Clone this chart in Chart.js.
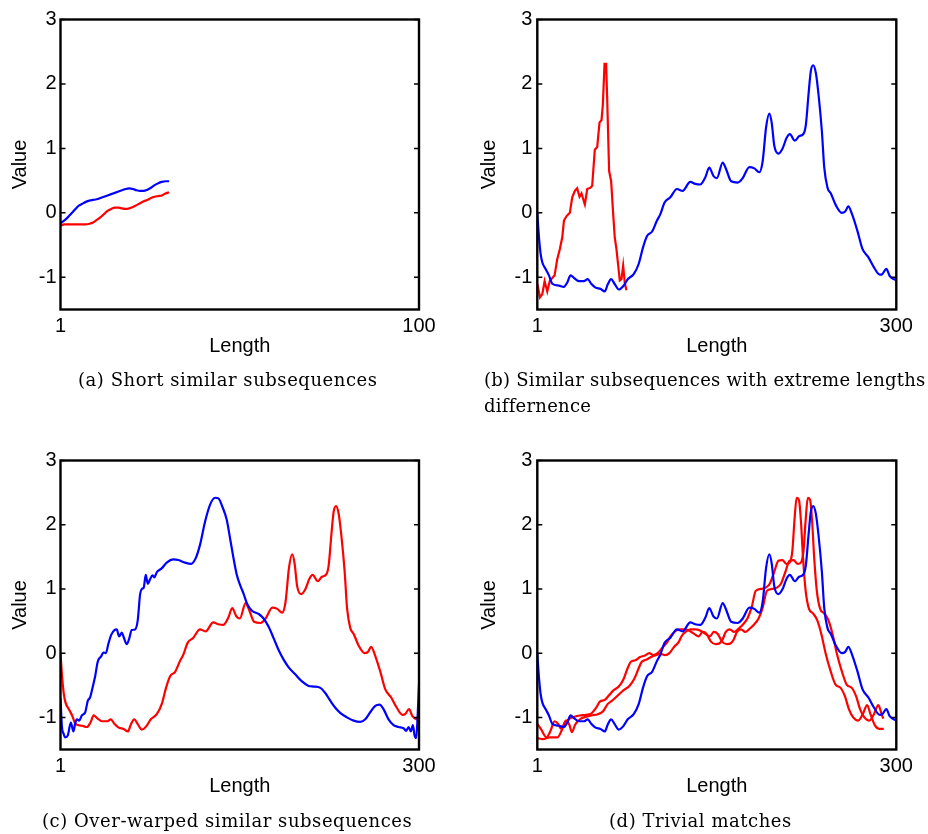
<!DOCTYPE html>
<html>
<head>
<meta charset="utf-8">
<script src="https://cdn.jsdelivr.net/npm/chart.js@4.4.1/dist/chart.umd.min.js"></script>
<style>
  html, body { margin: 0; padding: 0; background: #fff; }
  #page { position: relative; width: 928px; height: 834px; overflow: hidden; background: #fff; }
  .panel { position: absolute; width: 464px; height: 417px; }
  .panel canvas { display: block; }
  .cap { position: absolute; font-family: 'DejaVu Serif', 'Liberation Serif', serif; font-size: 18px;
         letter-spacing: 0.55px; line-height: 26px; color: #000; white-space: nowrap; }
  .cap.long { letter-spacing: 0.25px; }
</style>
</head>
<body>
<div id="page">
  <div class="panel" style="left:0;top:0"><canvas id="panelA" width="464" height="417"></canvas></div>
  <div class="panel" style="left:464px;top:0"><canvas id="panelB" width="464" height="417"></canvas></div>
  <div class="panel" style="left:0;top:441px"><canvas id="panelC" width="464" height="417"></canvas></div>
  <div class="panel" style="left:464px;top:441px"><canvas id="panelD" width="464" height="417"></canvas></div>

  <div class="cap" style="left:78px;top:367px">(a) Short similar subsequences</div>
  <div class="cap long" style="left:484px;top:367px">(b) Similar subsequences with extreme lengths<br>differnence</div>
  <div class="cap" style="left:42px;top:808px">(c) Over-warped similar subsequences</div>
  <div class="cap" style="left:609px;top:808px">(d) Trivial matches</div>
</div>

<script>
// Shared value axis
const yTicks = [-1, 0, 1, 2, 3];
const yMin = -1.5;
const yMax = 3;

// (a) two short subsequences, 31 samples each
const shortLen  = [1,2,3,4,5,6,7,8,9,10,11,12,13,14,15,16,17,18,19,20,21,22,23,24,25,26,27,28,29,30,31];
const shortBlue = [-0.16,-0.12,-0.07,-0.01,0.05,0.11,0.14,0.17,0.19,0.20,0.21,0.23,0.25,0.27,0.29,0.31,
                   0.33,0.35,0.37,0.38,0.37,0.35,0.34,0.34,0.36,0.39,0.43,0.46,0.48,0.49,0.49];
const shortRed  = [-0.20,-0.18,-0.18,-0.18,-0.18,-0.18,-0.18,-0.18,-0.17,-0.15,-0.11,-0.07,-0.02,0.03,0.06,0.08,
                   0.08,0.07,0.06,0.07,0.09,0.12,0.15,0.18,0.20,0.23,0.25,0.26,0.27,0.30,0.32];

// Full-length pattern (blue in b and d, red in c)
const queryLen = [1,2.4,3.8,5.2,7.9,10.7,13.5,19,23,26,28.7,31.5,35.6,39.8,43,45.9,49.5,53.6,57.2,59.7,
                  62.5,65.3,68.9,72.5,76.3,81.3,85.5,89,92.4,96.6,100.7,103.5,107,111.8,117.3,122,128.4,
                  132.6,136.7,140.9,144.2,147.8,150.6,155.4,158.2,162.4,167.9,172.1,177.6,181.8,185.9,
                  188.7,191.5,194.2,196.2,198.4,201.7,205.3,208.6,211.4,215.5,219.1,222.8,224.7,226.9,
                  228.8,230.8,233,235.2,238,240,242.7,245.5,249.6,254.6,257.4,260.1,262.9,267.6,271.8,
                  276.8,281.5,286.2,288.4,291.7,294.5,300];
const queryVal = [0.00,-0.38,-0.64,-0.77,-0.87,-0.97,-1.10,-1.13,-1.15,-1.08,-0.97,-1.01,-1.06,-1.06,-1.03,
                  -1.10,-1.16,-1.18,-1.22,-1.11,-1.03,-1.10,-1.19,-1.14,-1.03,-0.95,-0.79,-0.54,-0.36,-0.29,
                  -0.12,-0.02,0.16,0.24,0.37,0.34,0.48,0.45,0.44,0.55,0.70,0.57,0.54,0.78,0.68,0.49,0.47,
                  0.54,0.71,0.69,0.63,0.80,1.32,1.54,1.40,1.04,0.92,1.00,1.16,1.22,1.12,1.19,1.23,1.37,
                  1.84,2.20,2.29,2.17,1.84,1.27,0.70,0.39,0.30,0.12,0.00,0.02,0.10,-0.01,-0.28,-0.56,
                  -0.69,-0.85,-0.96,-0.95,-0.87,-0.98,-1.05];

// (b) strongly compressed match
const compLen = [1,3.2,5.2,7.1,9.3,11.5,13.5,15.4,17.6,19.8,21.8,23.2,25.4,28.1,30.1,32.3,34.2,36.2,37.8,
                 40.6,42.6,45.3,46.7,48.9,50.9,52.8,54.5,55.6,57,58.3,59.2,60.8,62.5,64.2,65.5,66.9,69.7,
                 71.1,72.5,73.8,75.2];
const compVal = [-1.10,-1.31,-1.26,-1.06,-1.22,-1.05,-1.01,-0.97,-0.72,-0.56,-0.38,-0.12,-0.05,0.00,0.24,
                 0.34,0.38,0.25,0.30,0.13,0.37,0.39,0.42,0.98,1.02,1.40,1.44,1.68,2.31,2.31,1.78,0.65,0.49,
                 -0.02,-0.38,-0.56,-1.05,-1.03,-0.82,-1.08,-1.20];

// (c) over-warped match
const warpLen = [1,2.2,3.5,4.9,7.1,9.6,11.8,13.2,14.6,16.6,18.8,21.6,23.8,25.7,27.7,29.9,32.1,34.9,36.8,
                 38.8,41,43.2,46,47.9,49.9,52.1,53.5,56.3,58.2,60.4,63.2,65.4,67.4,68.8,70.4,72.1,73.8,
                 75.7,77.7,79.3,81.3,85.4,89.6,95.2,99.3,104.9,109.9,113.8,117.4,121.6,125.7,129.9,132.7,
                 136,139.6,142.4,145.2,147.9,151,153.8,156.6,160.7,166.3,170.4,174.6,178.8,182.9,187.1,
                 191.3,196.8,202.4,207.9,212.1,217.7,221.8,226,230.2,234.3,239.9,245.4,251,255.2,259.3,
                 263.5,267.1,270.4,274.6,278.8,282.9,287.1,289.3,291.3,293.2,294.9,296.3,297.7,299,300];
const warpVal = [-0.70,-1.15,-1.25,-1.31,-1.28,-1.08,-1.22,-1.10,-1.03,-1.05,-0.97,-0.92,-0.74,-0.69,-0.54,
                 -0.36,-0.13,-0.05,0.01,0.00,0.15,0.28,0.36,0.37,0.26,0.32,0.26,0.14,0.22,0.36,0.37,0.51,
                 0.92,1.00,1.02,1.22,1.08,1.15,1.21,1.18,1.26,1.32,1.41,1.46,1.45,1.41,1.39,1.48,1.69,2.05,
                 2.31,2.42,2.41,2.28,2.08,1.79,1.49,1.23,1.05,0.92,0.77,0.66,0.61,0.54,0.41,0.23,0.05,
                 -0.10,-0.22,-0.33,-0.44,-0.51,-0.52,-0.54,-0.62,-0.74,-0.85,-0.93,-1.00,-1.05,-1.07,-1.03,
                 -0.92,-0.82,-0.80,-0.87,-1.03,-1.12,-1.15,-1.17,-1.21,-1.15,-1.22,-1.12,-1.28,-1.32,-0.92,-0.49];

// (d) two overlapping (trivial) matches
const match1Len = [1,4.3,8.5,11.8,15.4,18.2,21,23.7,27.9,32,36.2,41.7,45.9,50,53.3,57,60.5,64.4,68.8,72.7,
                   76.3,79.1,82.7,86.6,90.2,94.3,97.6,101.2,105.4,109.5,111.5,115.1,119.3,123.4,127.6,131.7,
                   135.3,138.7,142,145.6,149.7,152.5,155.2,158,161.3,164.9,168.5,171.9,176,179.6,182.9,
                   187.1,191.2,194.6,198.2,201.8,205.1,208.4,211.2,213.4,215.3,217,219,220.6,222.3,224.5,
                   227.3,230.6,234.2,237.8,241.1,245.3,249.4,253.6,257.2,260.5,264.1,268.3,272.1,275.7,
                   278.5,282.1,286,289.6];
const match1Val = [-1.10,-1.19,-1.31,-1.22,-1.06,-1.10,-1.18,-1.09,-1.02,-0.99,-0.97,-0.96,-0.94,-0.85,-0.75,
                   -0.73,-0.66,-0.58,-0.52,-0.41,-0.23,-0.13,-0.11,-0.06,-0.04,0.00,-0.03,0.00,0.09,0.18,
                   0.25,0.33,0.37,0.37,0.35,0.30,0.26,0.33,0.30,0.18,0.14,0.15,0.21,0.33,0.37,0.33,0.38,
                   0.44,0.54,0.72,0.97,1.00,1.02,1.08,1.26,1.44,1.45,1.39,1.41,1.59,2.10,2.42,2.38,2.05,
                   1.49,0.97,0.69,0.62,0.51,0.28,0.00,-0.28,-0.49,-0.54,-0.67,-0.87,-1.00,-1.05,-0.95,
                   -0.81,-0.95,-1.12,-1.18,-1.18];
const match2Len = [1,5.7,11.2,17.9,21.8,24.8,27.6,29.8,32.6,37.3,41.7,45.9,51.4,55.6,59.7,63.3,68,72.7,77.7,
                   81.8,85.5,88.2,92.1,95.7,99.9,103.5,107.6,111,115,119,121,124.4,128.6,132.7,136.9,141,
                   144.6,148,151.3,154.9,159,161.8,164.5,167.3,170.6,174.2,177.8,181.2,185.3,188.9,192.2,
                   196.4,200.5,203.9,207.5,211.1,214.4,217.7,220.5,222.7,224.6,226.3,228.3,229.9,231.6,
                   233.8,236.6,239.9,243.5,247.1,250.4,254.6,258.7,262.9,266.5,269.8,273.4,277.6,281.4,
                   285,287.8,289.2];
const match2Val = [-1.32,-1.34,-1.31,-1.31,-1.18,-1.05,-1.11,-1.23,-1.11,-1.02,-0.99,-0.97,-0.95,-0.91,-0.79,
                   -0.74,-0.66,-0.58,-0.51,-0.40,-0.23,-0.13,-0.10,-0.06,-0.03,-0.01,-0.03,0.00,0.10,0.18,
                   0.26,0.33,0.37,0.37,0.35,0.30,0.26,0.33,0.30,0.18,0.14,0.15,0.21,0.33,0.37,0.33,0.38,
                   0.44,0.54,0.72,0.97,1.00,1.02,1.08,1.26,1.44,1.45,1.39,1.41,1.59,2.10,2.42,2.38,2.05,
                   1.49,0.97,0.69,0.62,0.51,0.28,0.00,-0.28,-0.49,-0.54,-0.67,-0.87,-1.00,-1.05,-0.95,
                   -0.81,-0.95,-1.02];

const BLUE = '#0000ff';
const RED = '#ff0000';

Chart.defaults.font.family = "'Liberation Sans', Arial, Helvetica, sans-serif";
Chart.defaults.font.size = 20;
Chart.defaults.color = '#000';

// Black box around the plot area with short inward ticks on both sides
const boxFrame = {
  id: 'boxFrame',
  afterDraw(chart) {
    const { ctx, chartArea: a, scales: { y } } = chart;
    ctx.save();
    ctx.strokeStyle = '#000';
    ctx.lineWidth = 1.5;
    ctx.beginPath();
    y.ticks.forEach(t => {
      const py = y.getPixelForValue(t.value);
      ctx.moveTo(a.left, py);  ctx.lineTo(a.left + 5, py);
      ctx.moveTo(a.right - 5, py); ctx.lineTo(a.right, py);
    });
    ctx.stroke();
    ctx.lineWidth = 2.4;
    ctx.strokeRect(a.left, a.top, a.right - a.left, a.bottom - a.top);
    ctx.restore();
  }
};

function toPoints(xs, ys) {
  return xs.map((x, i) => ({ x: x, y: ys[i] }));
}

function makePanel(canvasId, xMax, series, geo) {
  return new Chart(document.getElementById(canvasId), {
    type: 'line',
    data: {
      datasets: series.map(s => ({
        data: toPoints(s.x, s.y),
        borderColor: s.color,
        borderWidth: 2.2,
        pointRadius: 0,
        fill: false,
        tension: s.smooth ? 0.4 : 0,
        cubicInterpolationMode: s.smooth ? 'monotone' : 'default'
      }))
    },
    options: {
      responsive: false,
      animation: false,
      devicePixelRatio: 1,
      layout: { padding: { left: 0, top: geo.top, right: geo.right, bottom: geo.bottom } },
      plugins: { legend: { display: false }, tooltip: { enabled: false } },
      scales: {
        x: {
          type: 'linear', min: 1, max: xMax,
          afterBuildTicks: s => { s.ticks = [1, xMax].map(v => ({ value: v })); },
          afterFit: s => { s.height = 50; },
          grid: { display: false, drawTicks: false },
          border: { display: false },
          ticks: { padding: 5, maxRotation: 0, autoSkip: false, callback: v => String(v) },
          title: { display: true, text: 'Length', padding: { top: 0, bottom: 1.5 } }
        },
        y: {
          min: yMin, max: yMax,
          afterBuildTicks: s => { s.ticks = yTicks.map(v => ({ value: v })); },
          afterFit: s => { s.width = geo.axisWidth; },
          grid: { display: false, drawTicks: false },
          border: { display: false },
          ticks: { padding: geo.tickPad, autoSkip: false, callback: v => String(v) },
          title: { display: true, text: 'Value', padding: { top: geo.titlePad, bottom: 0 } }
        }
      }
    },
    plugins: [boxFrame]
  });
}

const leftGeo  = { top: 19.5, right: 45,   bottom: 57.5, axisWidth: 60.5, tickPad: 4, titlePad: 8 };
const rightGeo = { top: 19.5, right: 31.7, bottom: 57.5, axisWidth: 73.3, tickPad: 5, titlePad: 13 };
const leftGeoLow  = Object.assign({}, leftGeo,  { bottom: 58.5 });
const rightGeoLow = Object.assign({}, rightGeo, { bottom: 58.5 });

makePanel('panelA', 100, [
  { x: shortLen, y: shortBlue, color: BLUE, smooth: true },
  { x: shortLen, y: shortRed,  color: RED,  smooth: true }
], leftGeo);

makePanel('panelB', 300, [
  { x: queryLen, y: queryVal, color: BLUE, smooth: true },
  { x: compLen,  y: compVal,  color: RED,  smooth: false }
], rightGeo);

makePanel('panelC', 300, [
  { x: warpLen,  y: warpVal,  color: BLUE, smooth: true },
  { x: queryLen, y: queryVal, color: RED,  smooth: true }
], leftGeoLow);

makePanel('panelD', 300, [
  { x: queryLen,  y: queryVal,  color: BLUE, smooth: true },
  { x: match1Len, y: match1Val, color: RED,  smooth: true },
  { x: match2Len, y: match2Val, color: RED,  smooth: true }
], rightGeoLow);
</script>
</body>
</html>
